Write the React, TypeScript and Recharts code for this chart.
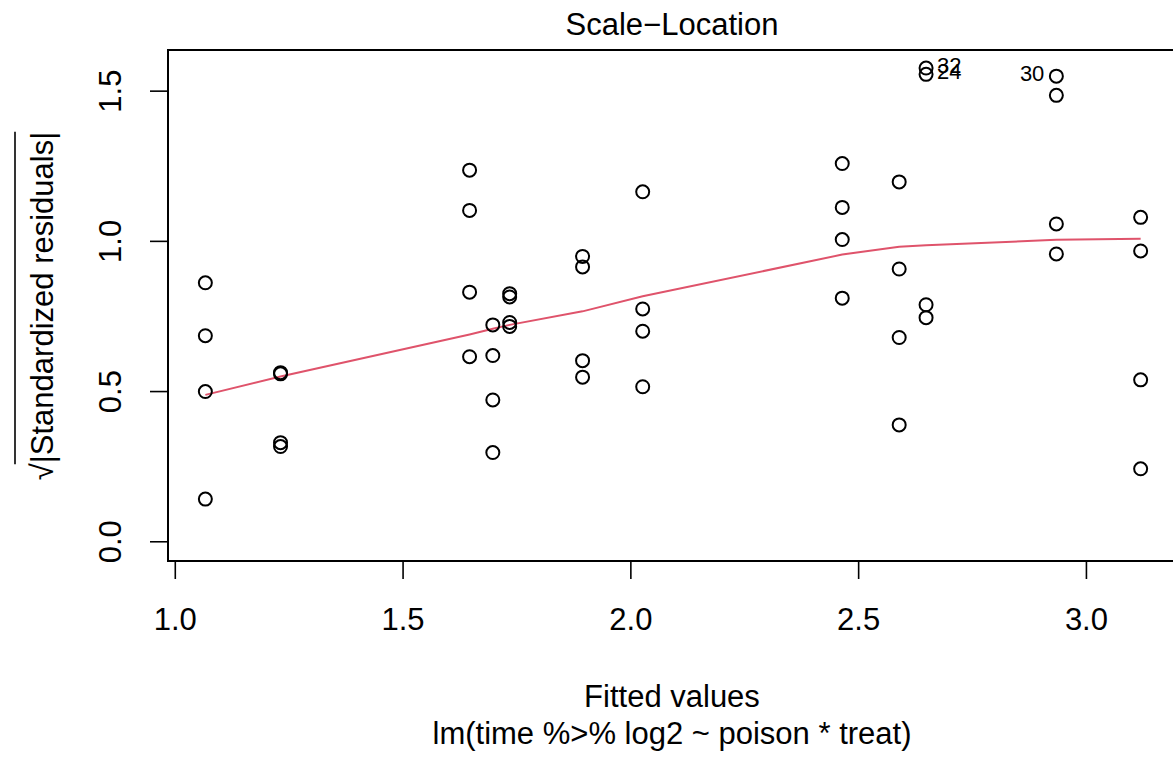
import { ScatterChart, Scatter, XAxis, YAxis, ReferenceArea } from 'recharts';

const FONT = '"Liberation Sans", Arial, Helvetica, sans-serif';

// fitted value of each poison x treat cell
const fittedGroups = [1.066, 1.231, 1.646, 1.697, 1.734, 1.894, 2.026, 2.464, 2.589, 2.648, 2.934, 3.119];

// sqrt(|standardized residuals|), four per cell
const residGroups = [
  [0.862, 0.686, 0.5, 0.142],
  [0.563, 0.559, 0.33, 0.317],
  [1.237, 1.103, 0.831, 0.616],
  [0.722, 0.62, 0.472, 0.297],
  [0.826, 0.815, 0.73, 0.717],
  [0.95, 0.915, 0.603, 0.548],
  [1.165, 0.775, 0.701, 0.516],
  [1.259, 1.113, 1.006, 0.811],
  [1.198, 0.908, 0.68, 0.389],
  [1.577, 1.556, 0.789, 0.746],
  [1.55, 1.486, 1.058, 0.958],
  [1.08, 0.968, 0.539, 0.243],
];

// labelled extreme points: group index, row index, id
const idGroup = [9, 9, 10];
const idRow = [0, 1, 0];
const idText = ['32', '24', '30'];

// loess smoother evaluated at the fitted values
const smoothY = [0.489, 0.55, 0.69, 0.709, 0.722, 0.767, 0.817, 0.956, 0.982, 0.987, 1.005, 1.009];

const xTicks = [1, 1.5, 2, 2.5, 3];
const yTicks = [0, 0.5, 1, 1.5];
const xDomain = [0.984, 3.201];
const yDomain = [-0.064, 1.637];

const points = fittedGroups.flatMap((fx, g) =>
  residGroups[g].map((ry, r) => {
    const k = idGroup.findIndex((gg, i) => gg === g && idRow[i] === r);
    return { x: fx, y: ry, id: k >= 0 ? idText[k] : null };
  })
);
const smooth = fittedGroups.map((fx, i) => ({ x: fx, y: smoothY[i] }));

const leftLabels = new Set(['30']);

const PointShape = (props: any) => {
  const { cx, cy, payload } = props;
  const id = payload?.id;
  const left = id && leftLabels.has(id);
  return (
    <g>
      <circle cx={cx} cy={cy} r={6.5} fill="none" stroke="#000" strokeWidth={2} />
      {id && (
        <text
          x={left ? cx - 12 : cx + 11}
          y={cy + 5}
          textAnchor={left ? 'end' : 'start'}
          fontFamily={FONT}
          fontSize={22}
          fill="#000"
        >
          {id}
        </text>
      )}
    </g>
  );
};

const XTick = (props: any) => {
  const { x, y, payload } = props;
  return (
    <text x={x} y={y + 51} textAnchor="middle" fontFamily={FONT} fontSize={31} fill="#000">
      {Number(payload.value).toFixed(1)}
    </text>
  );
};

const YTick = (props: any) => {
  const { x, y, payload } = props;
  const bx = x - 29;
  return (
    <text
      x={bx}
      y={y}
      transform={`rotate(-90, ${bx}, ${y})`}
      textAnchor="middle"
      fontFamily={FONT}
      fontSize={31}
      fill="#000"
    >
      {Number(payload.value).toFixed(1)}
    </text>
  );
};

function measure(s: string) {
  const c = document.createElement('canvas').getContext('2d');
  if (!c) return s.length * 15;
  c.font = `31px ${FONT}`;
  return c.measureText(s).width;
}

export default function App() {
  const yTitle = '\u221A|Standardized residuals|';
  const wAll = measure(yTitle);
  const wRad = measure('\u221A');
  const ty = 306;
  const tx = 53;

  return (
    <div style={{ position: 'absolute', left: 0, top: 0, width: 1173, height: 757, overflow: 'hidden', background: '#fff' }}>
      <ScatterChart width={1180} height={757} margin={{ top: 50, right: 2, bottom: 0, left: 0 }}>
        <XAxis
          type="number"
          dataKey="x"
          domain={xDomain}
          ticks={xTicks}
          allowDataOverflow
          axisLine={false}
          tickLine={{ stroke: '#000', strokeWidth: 1.6 }}
          tickSize={18}
          tickMargin={0}
          height={196}
          tick={<XTick />}
        />
        <YAxis
          type="number"
          dataKey="y"
          domain={yDomain}
          ticks={yTicks}
          allowDataOverflow
          axisLine={false}
          tickLine={{ stroke: '#000', strokeWidth: 1.6 }}
          tickSize={18}
          tickMargin={0}
          width={168}
          tick={<YTick />}
        />
        <ReferenceArea
          x1={xDomain[0]}
          x2={xDomain[1]}
          y1={yDomain[0]}
          y2={yDomain[1]}
          fill="none"
          fillOpacity={0}
          stroke="#000"
          strokeWidth={2}
          ifOverflow="visible"
        />
        <Scatter
          data={smooth}
          line={{ stroke: '#DF536B', strokeWidth: 2 }}
          lineType="joint"
          shape={() => <g />}
          isAnimationActive={false}
        />
        <Scatter data={points} shape={<PointShape />} isAnimationActive={false} />
      </ScatterChart>
      <svg width={1173} height={757} style={{ position: 'absolute', left: 0, top: 0, pointerEvents: 'none' }}>
        <text x={672} y={35} textAnchor="middle" fontFamily={FONT} fontSize={31} fill="#000">
          Scale{'\u2212'}Location
        </text>
        <text x={672} y={707} textAnchor="middle" fontFamily={FONT} fontSize={31} fill="#000">
          Fitted values
        </text>
        <text x={672} y={744} textAnchor="middle" fontFamily={FONT} fontSize={31} fill="#000">
          lm(time %&gt;% log2 ~ poison * treat)
        </text>
        <g transform={`rotate(-90, ${tx}, ${ty})`}>
          <text x={tx} y={ty} textAnchor="middle" fontFamily={FONT} fontSize={31} fill="#000">
            {yTitle}
          </text>
          <line
            x1={tx - wAll / 2 + wRad - 1}
            x2={tx + wAll / 2}
            y1={ty - 38}
            y2={ty - 38}
            stroke="#000"
            strokeWidth={1.6}
          />
        </g>
      </svg>
    </div>
  );
}
